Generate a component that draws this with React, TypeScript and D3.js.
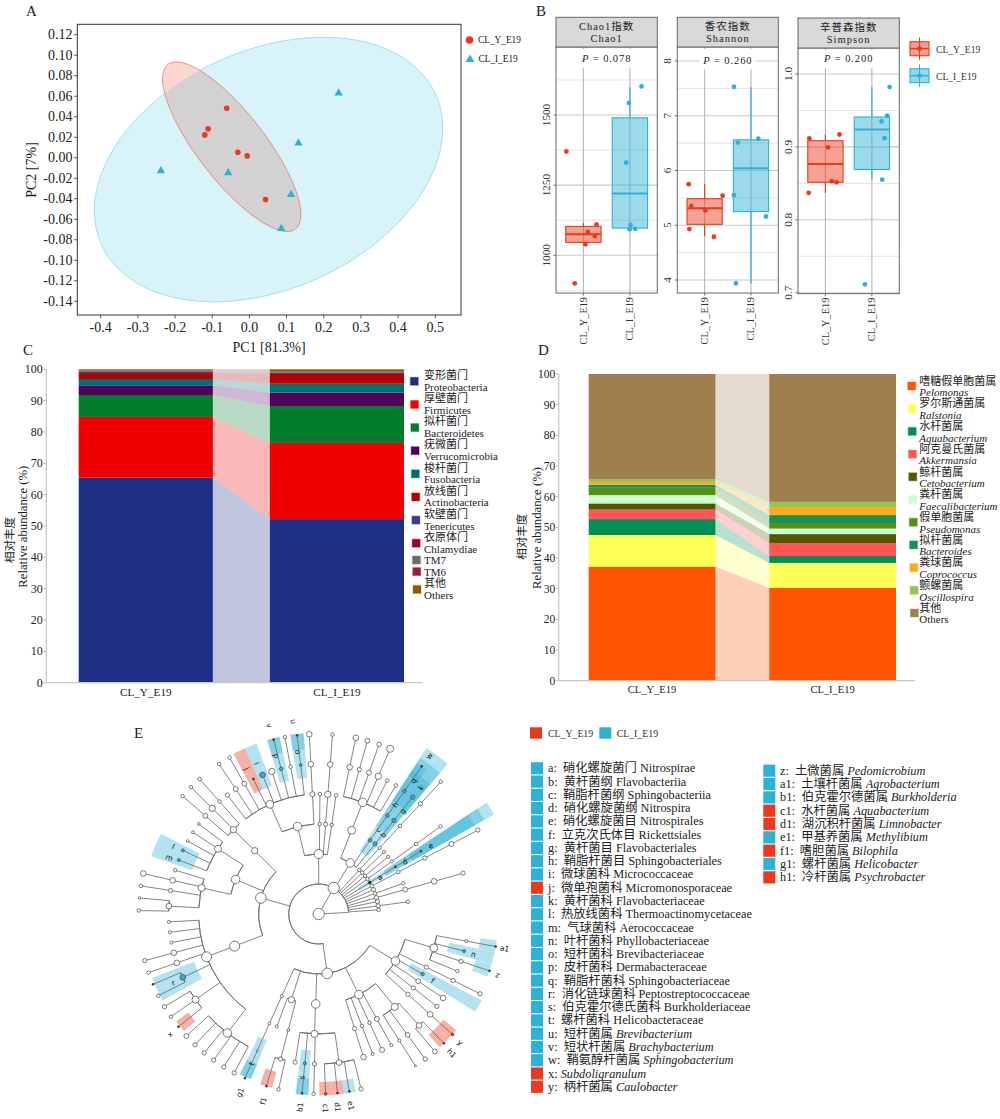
import * as d3 from 'd3'

const FONT = '"Liberation Serif","Noto Sans CJK SC",serif'
const RED = '#ea3a1e'
const BLUE = '#2db2d6'
const INK = '#222'

// A: PCoA
const pcXTicks = [-0.4, -0.3, -0.2, -0.1, 0, 0.1, 0.2, 0.3, 0.4, 0.5]
const pcYTicks = [0.12, 0.1, 0.08, 0.06, 0.04, 0.02, 0, -0.02, -0.04, -0.06, -0.08, -0.1, -0.12, -0.14]
const pcoaY = [[-0.061, 0.0483], [-0.111, 0.0282], [-0.12, 0.0223], [-0.031, 0.0054], [-0.006, 0.0018], [0.0435, -0.0407]]
const pcoaI = [[0.24, 0.063], [0.132, 0.0142], [-0.238, -0.0128], [-0.057, -0.0147], [0.112, -0.036], [0.0856, -0.069]]
// centre x, centre y, half width, half height, phase between x and y
const ellipseI = [0.0516, -0.0115, 0.4686, 0.129, 1.253]
const ellipseY = [-0.0476, 0.0108, 0.186, 0.0827, 2.5]

// B: alpha diversity; boxes are low, q1, median, q3, high; points are jitter, value
const chaoTicks = [1000, 1250, 1500]
const chaoMinor = [875, 1125, 1375, 1625]
const chaoBoxY = [1040, 1046, 1075, 1103, 1115]
const chaoBoxI = [1093, 1097, 1220, 1490, 1599]
const chaoPtsY = [[-0.367, 1370], [-0.187, 900], [0.043, 1039], [0.094, 1083], [0.245, 1068], [0.281, 1110]]
const chaoPtsI = [[0.252, 1602], [-0.022, 1543], [-0.079, 1330], [0.014, 1108], [-0.007, 1093], [0.115, 1094]]
const shannonTicks = [4, 5, 6, 7, 8]
const shannonMinor = [4.5, 5.5, 6.5, 7.5]
const shannonBoxY = [4.8, 5.017, 5.31, 5.485, 5.75]
const shannonBoxI = [3.94, 5.25, 6.04, 6.56, 7.52]
const shannonPtsY = [[-0.345, 5.75], [0.388, 5.54], [-0.288, 5.35], [0.014, 5.27], [-0.33, 4.93], [0.2, 4.79]]
const shannonPtsI = [[-0.367, 7.53], [0.158, 6.58], [-0.28, 6.51], [-0.367, 5.55], [0.324, 5.16], [-0.324, 3.94]]
const simpsonTicks = [0.7, 0.8, 0.9, 1]
const simpsonMinor = [0.75, 0.85, 0.95]
const simpsonBoxY = [0.837, 0.8514, 0.8765, 0.9085, 0.917]
const simpsonBoxI = [0.8556, 0.869, 0.924, 0.941, 0.982]
const simpsonPtsY = [[0.302, 0.917], [-0.345, 0.9118], [0.058, 0.8994], [0.137, 0.853], [0.237, 0.8514], [-0.36, 0.837]]
const simpsonPtsI = [[0.381, 0.982], [0.331, 0.943], [0.209, 0.935], [0.273, 0.912], [0.223, 0.855], [-0.151, 0.7115]]

const groups = ['CL_Y_E19', 'CL_I_E19']

// C: phylum composition
const phylumEn = ['Proteobacteria', 'Firmicutes', 'Bacteroidetes', 'Verrucomicrobia', 'Fusobacteria', 'Actinobacteria', 'Tenericutes', 'Chlamydiae', 'TM7', 'TM6', 'Others']
const phylumZh = ['变形菌门', '厚壁菌门', '拟杆菌门', '疣微菌门', '梭杆菌门', '放线菌门', '软壁菌门', '衣原体门', '', '', '其他']
const phylumColors = ['#1f2f85', '#f10000', '#027d2d', '#520060', '#006f6f', '#b10000', '#443c8f', '#99003d', '#6b6b6b', '#9e1a3d', '#925b00']
const phylumY = [65.4, 19.4, 7.0, 3.1, 2.0, 1.9, 0.45, 0.15, 0.1, 0.05, 0.45]
const phylumI = [52.2, 24.3, 11.8, 4.25, 2.85, 3.1, 0.35, 0.15, 0.1, 0.1, 0.8]

// D: genus composition
const genusEn = ['Pelomonas', 'Ralstonia', 'Aquabacterium', 'Akkermansia', 'Cetobacterium', 'Faecalibacterium', 'Pseudomonas', 'Bacteroides', 'Coprococcus', 'Oscillospira', 'Others']
const genusZh = ['嗜糖假单胞菌属', '罗尔斯通菌属', '水杆菌属', '阿克曼氏菌属', '鲸杆菌属', '粪杆菌属', '假单胞菌属', '拟杆菌属', '粪球菌属', '颤螺菌属', '其他']
const genusColors = ['#ff5500', '#ffff55', '#008f55', '#ff5555', '#555500', '#ccffcc', '#558f15', '#178f55', '#ffaa1a', '#8fc850', '#9f7f50']
const genusY = [37.2, 10.3, 5.2, 3.1, 2.0, 2.7, 2.4, 1.0, 0.9, 0.85, 34.35]
const genusI = [30.3, 8.1, 2.25, 4.25, 2.9, 1.8, 1.8, 2.6, 2.6, 1.7, 41.7]

const percentTicks = [0, 10, 20, 30, 40, 50, 60, 70, 80, 90, 100]

// E: cladogram, angle in degrees clockwise from up, level is the ring, w is the node size
type Clade = { a: number; lv: number; w: number; tag?: string; span?: number[]; kids?: Clade[] }
const c = (a: number, lv: number, w: number, kids?: Clade[], tag?: string, span?: number[]): Clade => ({ a, lv, w, kids, tag, span })
const chain = (a: number, lv: number, ws: number[], tags: (string | undefined)[] = []): Clade =>
  c(a, lv, ws[0], ws.length > 1 ? [chain(a, lv + 1, ws.slice(1), tags.slice(1))] : undefined, tags[0])

const cladeTree = c(0, 0, 7, [
  c(87, 1, 0),
  c(30, 1, 7, [
    c(0, 2, 5.5, [
      c(-13.6, 3, 5, [
        c(-24, 4, 4.5, [
          chain(-37.5, 5, [2]), chain(-33.6, 5, [2.5, 1.5]), chain(-29.7, 5, [2.5, 1.5]),
          chain(-25.8, 5, [0.8], ['k']), chain(-22, 5, [3], ['b']), chain(-18.2, 5, [3.5]),
          chain(-14.5, 5, [1.5, 0.8], ['b', 'k']), chain(-10.8, 5, [1.5, 1.5]), chain(-6.9, 5, [1, 0.8], ['b', 'k']),
        ]),
        chain(-3, 4, [2.5, 3, 3]),
      ]),
      chain(0.6, 3, [1.5, 1.5]), chain(4.4, 3, [2, 3.5, 3, 1.5]), chain(8.3, 3, [1.5, 1.5]),
    ]),
    c(31.7, 2, 5, [
      c(21.5, 3, 4.5, [c(21.5, 4, 5, [
        chain(11.9, 5, [3, 3]), chain(15.7, 5, [2, 2.5]), chain(19.6, 5, [2.5, 2.2]),
        chain(23.4, 5, [3.5, 4]), chain(27.2, 5, [1.5]), chain(31, 5, [1.5]),
      ])]),
      chain(34.9, 3, [1.5, 1.5, 1.5, 0.8], ['b', 'b', 'b', 'k']),
      chain(38.8, 3, [2, 2, 2], ['b', 'b', 'b']),
    ]),
    chain(42.7, 2, [1.5, 1.2, 1.5, 2, 1.5]), chain(46.5, 2, [1.5, 1.2]), chain(50.5, 2, [1.5, 1.2]),
    chain(54.3, 2, [1.5, 1.2, 1.5, 1.5]), chain(58.4, 2, [1.2, 0.8, 0.8], ['k', 'k', 'k']),
    chain(62.2, 2, [1.5, 1.5, 2, 2.5, 2]), chain(66, 2, [2]), chain(70, 2, [1.5, 1.5]),
    chain(74.2, 2, [2, 2.5, 3, 2]), chain(78, 2, [2]), chain(82.2, 2, [2, 1.5]), chain(86, 2, [1.5]),
    c(-74.5, 2, 6.5, [
      c(-45.3, 3, 3.5, [c(-45.3, 4, 3.5, [
        chain(-41.4, 5, [1.5, 1.5]), chain(-45.2, 5, [3.5, 1.5]), chain(-49.1, 5, [2.5, 1.5]),
      ])]),
      c(-67.5, 3, 5, [
        c(-57.1, 4, 4, [chain(-53.1, 5, [1]), chain(-57, 5, [1]), chain(-60.9, 5, [1]), chain(-64.9, 5, [1.2], ['b']), chain(-68.9, 5, [1.2], ['b'])]),
        c(-77.4, 4, 4, [
          chain(-73, 5, [1.5]), chain(-77, 5, [3, 3]), chain(-81, 5, [2, 1.5]),
          c(-87, 5, 3, [chain(-84.9, 6, [1]), chain(-88.9, 6, [1.5])]),
        ]),
      ]),
      c(-110.9, 3, 6, [c(-110.9, 4, 6, [
        chain(-93, 5, [1.2]), chain(-97, 5, [1.2]), chain(-101, 5, [1.2]), chain(-105, 5, [3, 2]), chain(-109, 5, [3, 1.5]),
        c(-115, 5, 3, [chain(-113, 6, [0.8], ['k']), chain(-117, 6, [1.5])], 'b'),
        c(-124.8, 5, 4, [chain(-121, 6, [2]), chain(-124.8, 6, [1.5]), chain(-128.8, 6, [0.8], ['k'])]),
        c(-142.5, 5, 5, [chain(-132.7, 6, [2.5]), chain(-136.6, 6, [2]), chain(-140.5, 6, [2]), chain(-144.3, 6, [2]), chain(-148.2, 6, [2]), chain(-152, 6, [2])]),
      ])]),
    ]),
    c(171.8, 2, 6.5, [
      c(121.5, 3, 5, [
        c(106.4, 4, 4.5, [chain(100.4, 5, [1.2, 0.8], [undefined, 'k']), chain(104.3, 5, [1.2], ['b']), chain(108.4, 5, [2, 0.8], [undefined, 'k']), chain(112.4, 5, [1.5])]),
        chain(116.3, 4, [2, 2, 2]), chain(120, 4, [1.5], ['b']), chain(124, 4, [2.5, 3]), chain(128, 4, [2, 2]),
        chain(132, 4, [2, 3, 1], [undefined, undefined, 'r']),
      ]),
      c(153.5, 3, 5, [
        chain(162.6, 4, [2, 3]), chain(158.9, 4, [1.5, 1.2]), chain(155, 4, [1.5, 2.5]), chain(151, 4, [2.5, 1.2]),
        c(140.7, 4, 4, [chain(147.5, 5, [1.2, 0.8]), chain(143.7, 5, [2.5, 2]), c(138, 5, 3, [chain(139.8, 6, [2.5]), chain(135.9, 6, [0.8], ['k'])])]),
      ]),
      c(181.9, 3, 5, [c(182, 4, 4, [
        chain(189, 5, [2]), chain(185.3, 5, [1.2, 0.8], ['b', 'k']), chain(181.6, 5, [2, 1.5]),
        c(172.2, 5, 3, [chain(177.8, 6, [1], ['r']), chain(174, 6, [0.8], ['k']), chain(170.2, 6, [0.8], ['k']), chain(166.4, 6, [2])]),
      ])]),
      c(197.7, 3, 3.5, [
        chain(200.4, 4, [1.2]),
        c(194.7, 4, 1, [c(194.7, 5, 2, [chain(192.9, 6, [1.5]), chain(196.9, 6, [0.8], ['k'])])]),
      ]),
      chain(204.2, 3, [1.2, 1, 0.8, 0.8], [undefined, undefined, undefined, 'k']),
    ]),
  ], undefined, [-189, 86]),
])

// highlighted clades: start, end, inner level, outer level, group
const cladeSectors: [number, number, number, number, string][] = [
  [-24, -20, 4.55, 6.05, 'I'], [-28, -24, 4.55, 6.05, 'Y'],
  [-16.5, -12.5, 4.55, 6.05, 'I'], [-16.5, -12.5, 5.5, 6.05, 'I'],
  [-9, -4.8, 4.55, 6.05, 'I'], [-9, -4.8, 5.5, 6.05, 'I'],
  [33, 36.9, 2.5, 6.6, 'I'], [33, 36.9, 3.5, 6.2, 'I'], [33, 36.9, 4.5, 5.7, 'I'], [33, 36.9, 5.5, 6, 'I'],
  [36.9, 40.7, 2.5, 6.6, 'I'], [36.9, 40.7, 3.5, 6.2, 'I'], [36.9, 40.7, 4.5, 5.7, 'I'],
  [56.4, 60.4, 1.55, 6.72, 'I'], [56.4, 60.4, 2.6, 6.35, 'I'], [56.4, 60.4, 3.6, 5.98, 'I'],
  [-67, -63, 4.45, 5.9, 'I'], [-71, -67, 4.45, 5.9, 'I'],
  [-119, -111, 4.45, 5.95, 'I'],
  [-131, -127, 5.45, 5.95, 'Y'],
  [-157.7, -153.8, 4.55, 5.95, 'I'], [-157.7, -153.8, 5.4, 5.95, 'I'],
  [-165, -161, 5.45, 6, 'Y'],
  [-176.7, -172.7, 4.55, 6.05, 'I'], [-176.7, -172.7, 5.5, 6.05, 'I'],
  [175.8, 179.8, 5.6, 6.05, 'Y'], [172, 175.8, 5.6, 6.05, 'Y'], [168.2, 172, 5.6, 6.05, 'I'],
  [102.3, 106.3, 4.45, 5.95, 'I'], [98.4, 102.3, 5.45, 6, 'I'], [106.3, 110.3, 5.45, 6, 'I'], [102.3, 106.3, 5.95, 6, 'I'],
  [118, 122, 3.5, 6.15, 'I'],
  [130.2, 133.9, 5.45, 6, 'Y'], [133.9, 137.7, 5.45, 6, 'Y'],
]
// clade letters: text, angle, level
const cladeLabels: [string, number, number][] = [
  ['i', -22.4, 5.43], ['j', -26.4, 5.4], ['p', -15.1, 5.45], ['v', -14.7, 6.5], ['o', -7.3, 5.45], ['u', -7.5, 6.47],
  ['q', 35.4, 5.45], ['h', 35, 4.44], ['c', 35.4, 3.43], ['w', 35, 6.43], ['k', 39, 5.42], ['g', 39.2, 4.43], ['b', 39.3, 3.4],
  ['a', 59.1, 2.38], ['d', 58.8, 3.36], ['e', 58.7, 4.37], ['l', -65.1, 5.34], ['m', -69.3, 5.32], ['r', -115.3, 5.36], ['x', -129, 6.37],
  ['t', -155.9, 5.47], ['g1', -156.2, 6.5], ['f1', -163.5, 6.5], ['s', -174.2, 5.48], ['b1', -174.5, 6.47],
  ['c1', 178, 6.48], ['d1', 174.4, 6.46], ['e1', 170.5, 6.48], ['y', 132.3, 6.37], ['h1', 136.3, 6.42],
  ['f', 120.3, 4.4], ['n', 104.6, 5.33], ['a1', 100.5, 6.3], ['z', 108.8, 6.3],
]

// LEfSe key: letter, Chinese, Latin, group
const featuresLeft = [
  ['a', '硝化螺旋菌门', 'Nitrospirae', 'I'], ['b', '黄杆菌纲', 'Flavobacteriia', 'I'], ['c', '鞘脂杆菌纲', 'Sphingobacteriia', 'I'],
  ['d', '硝化螺旋菌纲', 'Nitrospira', 'I'], ['e', '硝化螺旋菌目', 'Nitrospirales', 'I'], ['f', '立克次氏体目', 'Rickettsiales', 'I'],
  ['g', '黄杆菌目', 'Flavobacteriales', 'I'], ['h', '鞘脂杆菌目', 'Sphingobacteriales', 'I'], ['i', '微球菌科', 'Micrococcaceae', 'I'],
  ['j', '微单孢菌科', 'Micromonosporaceae', 'Y'], ['k', '黄杆菌科', 'Flavobacteriaceae', 'I'], ['l', '热放线菌科', 'Thermoactinomycetaceae', 'I'],
  ['m', '气球菌科', 'Aerococcaceae', 'I'], ['n', '叶杆菌科', 'Phyllobacteriaceae', 'I'], ['o', '短杆菌科', 'Brevibacteriaceae', 'I'],
  ['p', '皮杆菌科', 'Dermabacteraceae', 'I'], ['q', '鞘脂杆菌科', 'Sphingobacteriaceae', 'I'], ['r', '消化链球菌科', 'Peptostreptococcaceae', 'I'],
  ['s', '伯克霍尔德氏菌科', 'Burkholderiaceae', 'I'], ['t', '螺杆菌科', 'Helicobacteraceae', 'I'],
  ['u', '短杆菌属', '*Brevibacterium', 'I'], ['v', '短状杆菌属', '*Brachybacterium', 'I'], ['w', '鞘氨醇杆菌属', '*Sphingobacterium', 'I'],
  ['x', '', '*Subdoligranulum', 'Y'], ['y', '柄杆菌属', '*Caulobacter', 'Y'],
]
const featuresRight = [
  ['z', '土微菌属', '*Pedomicrobium', 'I'], ['a1', '土壤杆菌属', '*Agrobacterium', 'I'], ['b1', '伯克霍尔德菌属', '*Burkholderia', 'I'],
  ['c1', '水杆菌属', '*Aquabacterium', 'Y'], ['d1', '湖沉积杆菌属', '*Limnobacter', 'Y'], ['e1', '甲基养菌属', '*Methylibium', 'I'],
  ['f1', '嗜胆菌属', '*Bilophila', 'Y'], ['g1', '螺杆菌属', '*Helicobacter', 'I'], ['h1', '冷杆菌属', '*Psychrobacter', 'Y'],
]

function Txt({ x, y, size, rot, anchor, children, fill = INK, ...rest }: any) {
  return (
    <text
      x={rot == null ? x : undefined}
      y={rot == null ? y : undefined}
      transform={rot == null ? undefined : `translate(${x},${y}) rotate(${rot})`}
      fontSize={size}
      textAnchor={anchor}
      fill={fill}
      fontFamily={FONT}
      {...rest}
    >
      {children}
    </text>
  )
}

function PanelA() {
  const x = d3.scaleLinear().domain([-0.4, 0.5]).range([100.7, 435.3])
  const y = d3.scaleLinear().domain([-0.14, 0.12]).range([301.3, 34.7])
  const ellipse = ([cx, cy, a, b, phi]: number[]) =>
    d3.line().curve(d3.curveLinearClosed)(
      d3.range(0, Math.PI * 2, 0.03).map(t => [x(cx + a * Math.cos(t)), y(cy + b * Math.cos(t - phi))] as [number, number]),
    )!
  const tri = d3.symbol(d3.symbolTriangle, 30)()!
  return (
    <g>
      <defs>
        <clipPath id="ellipse-i"><path d={ellipse(ellipseI)} /></clipPath>
      </defs>
      <path d={ellipse(ellipseI)} fill="#d8f3f9" stroke="#8fd8e8" strokeWidth={0.8} />
      <path d={ellipse(ellipseY)} fill="#fcd6cf" />
      <path d={ellipse(ellipseY)} fill="#d3d1d2" clipPath="url(#ellipse-i)" />
      <path d={ellipse(ellipseY)} fill="none" stroke="#df7a6c" strokeWidth={0.8} />
      {pcoaY.map((d, i) => <circle key={i} cx={x(d[0])} cy={y(d[1])} r={2.8} fill={RED} />)}
      {pcoaI.map((d, i) => <path key={i} d={tri} transform={`translate(${x(d[0])},${y(d[1])})`} fill={BLUE} />)}
      <rect x={77.3} y={24.3} width={383.7} height={290.7} fill="none" stroke="#333" strokeWidth={1} />
      {pcXTicks.map(t => (
        <g key={t}>
          <line x1={x(t)} x2={x(t)} y1={315} y2={318.5} stroke="#333" strokeWidth={0.8} />
          <Txt x={x(t)} y={332} size={14} anchor="middle">{t.toFixed(1)}</Txt>
        </g>
      ))}
      {pcYTicks.map(t => (
        <g key={t}>
          <line x1={74} x2={77.3} y1={y(t)} y2={y(t)} stroke="#333" strokeWidth={0.8} />
          <Txt x={72.5} y={y(t) + 4.5} size={14} anchor="end">{t.toFixed(2)}</Txt>
        </g>
      ))}
      <Txt x={269} y={351.5} size={14} anchor="middle">PC1 [81.3%]</Txt>
      <Txt x={36} y={170} size={14} rot={-90} anchor="middle">PC2 [7%]</Txt>
      <circle cx={469.5} cy={40} r={3.8} fill={RED} />
      <path d={d3.symbol(d3.symbolTriangle, 34)()!} transform={`translate(470,59.5)`} fill={BLUE} />
      <Txt x={478} y={43} size={9.3}>{groups[0]}</Txt>
      <Txt x={478.5} y={62} size={9.3}>{groups[1]}</Txt>
    </g>
  )
}

function Facet({ left, right, top, head, bottom, zh, en, p, pY, major, minor, cal, boxY, boxI, ptsY, ptsI, fmt }: any) {
  const x = d3.scaleLinear().domain([0.41, 2.59]).range([left, right])
  const y = d3.scaleLinear().domain(cal[0]).range(cal[1])
  const groupsDraw = [
    { pos: 1, box: boxY, pts: ptsY, col: RED },
    { pos: 2, box: boxI, pts: ptsI, col: BLUE },
  ]
  return (
    <g>
      <rect x={left} y={head} width={right - left} height={bottom - head} fill="#fff" />
      {minor.map((t: number) => <line key={t} x1={left} x2={right} y1={y(t)} y2={y(t)} stroke="#e3e3e3" strokeWidth={1} />)}
      {major.map((t: number) => <line key={t} x1={left} x2={right} y1={y(t)} y2={y(t)} stroke="#c9c9c9" strokeWidth={1.1} />)}
      {[1, 2].map(g => <line key={g} x1={x(g)} x2={x(g)} y1={head} y2={bottom} stroke="#bcbcbc" strokeWidth={1.2} />)}
      <rect x={x(0.885)} y={head + 2} width={x(2.12) - x(0.885)} height={pY - head + 4} fill="#fff" />
      <Txt x={(x(1) + x(2)) / 2} y={pY} size={10.5} anchor="middle" letterSpacing={0.9}>
        <tspan fontStyle="italic">P</tspan> = {p}
      </Txt>
      {groupsDraw.map(g => {
        const [lo, q1, med, q3, hi] = g.box
        const hw = 0.38
        return (
          <g key={g.pos}>
            <line x1={x(g.pos)} x2={x(g.pos)} y1={y(lo)} y2={y(q1)} stroke={g.col} strokeWidth={1.2} />
            <line x1={x(g.pos)} x2={x(g.pos)} y1={y(q3)} y2={y(hi)} stroke={g.col} strokeWidth={1.2} />
            <rect x={x(g.pos - hw)} y={y(q3)} width={x(g.pos + hw) - x(g.pos - hw)} height={y(q1) - y(q3)} fill={g.col} fillOpacity={0.48} stroke={g.col} strokeWidth={1.1} />
            <line x1={x(g.pos - hw)} x2={x(g.pos + hw)} y1={y(med)} y2={y(med)} stroke={g.col} strokeWidth={2} />
            {g.pts.map((d: number[], i: number) => <circle key={i} cx={x(g.pos + d[0])} cy={y(d[1])} r={2.4} fill={g.col} />)}
            <line x1={x(g.pos)} x2={x(g.pos)} y1={bottom} y2={bottom + 2.5} stroke="#444" strokeWidth={0.8} />
            <Txt x={x(g.pos) + 3.5} y={bottom + 4} size={10.3} rot={-90} anchor="end" fill="#333">{groups[g.pos - 1]}</Txt>
          </g>
        )
      })}
      {major.map((t: number) => (
        <g key={t}>
          <line x1={left - 2.5} x2={left} y1={y(t)} y2={y(t)} stroke="#444" strokeWidth={0.8} />
          <Txt x={left - 6} y={y(t)} size={11.2} rot={-90} anchor="middle" fill="#333">{fmt(t)}</Txt>
        </g>
      ))}
      <rect x={left} y={head} width={right - left} height={bottom - head} fill="none" stroke="#666" strokeWidth={1} />
      <rect x={left} y={top} width={right - left} height={head - top} fill="#d9d9d9" stroke="#666" strokeWidth={1} />
      <Txt x={(left + right) / 2} y={top + 13} size={10.5} anchor="middle" letterSpacing={1}>{zh}</Txt>
      <Txt x={(left + right) / 2} y={top + 24.7} size={10.5} anchor="middle" letterSpacing={1}>{en}</Txt>
    </g>
  )
}

function PanelB() {
  const keyRows = [{ col: RED, y: 41.7 }, { col: BLUE, y: 68.7 }]
  return (
    <g>
      <Facet left={556} right={657.3} top={17.3} head={47} bottom={293} zh="Chao1指数" en="Chao1" p="0.078" pY={61.5}
        major={chaoTicks} minor={chaoMinor} cal={[[1000, 1500], [255.3, 115]]} boxY={chaoBoxY} boxI={chaoBoxI} ptsY={chaoPtsY} ptsI={chaoPtsI} fmt={String} />
      <Facet left={677.3} right={778.3} top={17.3} head={47} bottom={293} zh="香农指数" en="Shannon" p="0.260" pY={63.5}
        major={shannonTicks} minor={shannonMinor} cal={[[4, 8], [280, 61]]} boxY={shannonBoxY} boxI={shannonBoxI} ptsY={shannonPtsY} ptsI={shannonPtsI} fmt={String} />
      <Facet left={798} right={899.3} top={18} head={48} bottom={293.7} zh="辛普森指数" en="Simpson" p="0.200" pY={62}
        major={simpsonTicks} minor={simpsonMinor} cal={[[0.7, 1], [292.7, 74]]} boxY={simpsonBoxY} boxI={simpsonBoxI} ptsY={simpsonPtsY} ptsI={simpsonPtsI} fmt={(t: number) => t.toFixed(1)} />
      {keyRows.map((k, i) => (
        <g key={i}>
          <line x1={919.5} x2={919.5} y1={k.y - 4.4} y2={k.y + 18.3} stroke={k.col} strokeWidth={1} />
          <rect x={910} y={k.y} width={19} height={14} fill={k.col} fillOpacity={0.5} stroke={k.col} strokeWidth={1.1} />
          <line x1={910} x2={929} y1={k.y + 7} y2={k.y + 7} stroke={k.col} strokeWidth={1.5} />
          <circle cx={919.5} cy={k.y + 7} r={2.4} fill={k.col} />
          <Txt x={936} y={k.y + 11} size={9.6} fill="#333">{groups[i]}</Txt>
        </g>
      ))}
    </g>
  )
}

function StackPanel({ keys, zh, colors, valuesY, valuesI, axisX, axisEnd, y0, y100, barL, barR, tickSize, labelSize, labelY,
  legX, legZh0, legStep, legLine, legSingle, swatchX, swatchDy, zhTitle, enTitle, italic }: any) {
  const table = groups.map((g, gi) => {
    const row: Record<string, number> = {}
    keys.forEach((k: string, i: number) => { row[k] = (gi === 0 ? valuesY : valuesI)[i] })
    return row
  })
  const series = d3.stack<Record<string, number>>().keys(keys)(table)
  const x = d3.scaleBand().domain(groups).range([barL, barR]).paddingInner(0.298)
  const y = d3.scaleLinear().domain([0, 100]).range([y0, y100])
  const ribbon = d3.area<number>()
    .x((_, i) => (i === 0 ? x(groups[0])! + x.bandwidth() : x(groups[1])!))
  let cursor = legZh0
  return (
    <g>
      {series.map((s, si) => (
        <g key={s.key}>
          {s.map((d, i) => (
            <rect key={i} x={x(groups[i])} width={x.bandwidth()} y={y(d[1])} height={y(d[0]) - y(d[1])} fill={colors[si]} />
          ))}
          <path
            d={ribbon.y0((_, i) => y(s[i][0])).y1((_, i) => y(s[i][1]))([0, 1])!}
            fill={colors[si]}
            fillOpacity={0.28}
          />
        </g>
      ))}
      <line x1={axisX} x2={axisEnd} y1={y0} y2={y0} stroke="#c8c8c8" strokeWidth={1.3} />
      <line x1={axisX} x2={axisX} y1={y100} y2={y0} stroke="#c8c8c8" strokeWidth={1.3} />
      {percentTicks.map(t => (
        <g key={t}>
          <line x1={axisX - 3} x2={axisX} y1={y(t)} y2={y(t)} stroke="#bbb" strokeWidth={1} />
          <Txt x={axisX - 3.5} y={y(t) + 4} size={tickSize} anchor="end">{t}</Txt>
        </g>
      ))}
      {groups.map(g => (
        <Txt key={g} x={x(g)! + x.bandwidth() / 2} y={labelY} size={labelSize} anchor="middle">{g}</Txt>
      ))}
      <Txt x={zhTitle[0]} y={zhTitle[1]} size={11.5} rot={-90} anchor="middle">{zhTitle[2]}</Txt>
      <Txt x={enTitle[0]} y={enTitle[1]} size={12.7} rot={-90} anchor="middle">Relative abundance (%)</Txt>
      {keys.map((k: string, i: number) => {
        const two = zh[i] !== ''
        const rowY = cursor
        cursor += two ? legStep : legSingle
        const sy = two ? rowY + swatchDy : rowY
        return (
          <g key={k}>
            <rect x={swatchX + i * 0.27 - 4} y={sy - 4} width={8} height={8} fill={colors[i]} stroke={colors[i]} strokeOpacity={0.25} strokeWidth={1.4} />
            {two && <Txt x={legX} y={rowY + 4} size={11}>{zh[i]}</Txt>}
            <Txt x={legX} y={(two ? rowY + legLine : rowY) + 4} size={11} fontStyle={italic && k !== 'Others' ? 'italic' : undefined}>{k}</Txt>
          </g>
        )
      })}
    </g>
  )
}

function PanelE() {
  const cx = 318.7
  const cy = 914
  const radius = d3.scaleLinear().domain([0, 6]).range([0, 180])
  const size = d3.scaleLinear().domain([1, 7]).range([1.4, 5.7])
  const rad = (a: number) => (a * Math.PI) / 180
  const pt = (a: number, lv: number): [number, number] => [
    cx + radius(lv) * Math.sin(rad(a)),
    cy - radius(lv) * Math.cos(rad(a)),
  ]
  const root = d3.hierarchy<Clade>(cladeTree, d => d.kids)
  const nodes = root.descendants()
  const arc = d3.arc()
  const linkLine = d3.line()
  const fills: Record<string, string> = { b: BLUE, r: RED, k: '#223' }
  return (
    <g>
      {cladeSectors.map((s, i) => (
        <path
          key={i}
          transform={`translate(${cx},${cy})`}
          d={arc({ startAngle: rad(s[0]), endAngle: rad(s[1]), innerRadius: radius(s[2]), outerRadius: radius(s[3]) })!}
          fill={s[4] === 'Y' ? RED : BLUE}
          fillOpacity={s[4] === 'Y' ? 0.4 : 0.36}
        />
      ))}
      {nodes.filter(n => n.data.kids && n.depth > 0).map((n, i) => {
        const as = [n.data.a, ...n.data.kids!.map(k => k.a)]
        const [a0, a1] = n.data.span ?? [d3.min(as)!, d3.max(as)!]
        const r = radius(n.data.lv)
        return (
          <path key={i} transform={`translate(${cx},${cy})`} d={arc({ startAngle: rad(a0), endAngle: rad(a1), innerRadius: r, outerRadius: r })!} fill="none" stroke="#666" strokeWidth={0.8} />
        )
      })}
      {nodes.filter(n => n.parent).map((n, i) => (
        <path key={i} d={linkLine([pt(n.data.a, n.parent!.data.lv), pt(n.data.a, n.data.lv)])!} fill="none" stroke="#666" strokeWidth={0.8} />
      ))}
      {nodes.filter(n => n.data.w > 0).map((n, i) => {
        const [px, py] = pt(n.data.a, n.data.lv)
        return (
          <circle key={i} cx={px} cy={py} r={n.data.w < 1 ? 1 : size(n.data.w)} fill={n.data.tag ? fills[n.data.tag] : '#fff'} stroke="#444" strokeWidth={0.7} />
        )
      })}
      {cladeLabels.map(([t, a, lv]) => {
        const [px, py] = pt(a, lv)
        return (
          <text key={t} transform={`translate(${px},${py}) rotate(${a < 0 ? a + 90 : a - 90})`} textAnchor="middle" dy="0.35em" fontSize={7.5} fontFamily='"DejaVu Sans",sans-serif' fill="#111">{t}</text>
        )
      })}
    </g>
  )
}

function FeatureKey({ rows, swatchX, textX, y0, step }: any) {
  return (
    <g>
      {rows.map((r: string[], i: number) => {
        const y = y0 + i * step
        const it = r[2].startsWith('*')
        return (
          <g key={r[0]}>
            <rect x={swatchX} y={y - 6.1} width={12} height={12.2} fill={r[3] === 'Y' ? RED : BLUE} />
            <Txt x={textX} y={y + 4} size={12.3} style={{ whiteSpace: 'pre' }}>
              {r[1] ? `${r[0]}:  ${r[1]} ` : `${r[0]}: `}
              <tspan fontStyle={it ? 'italic' : undefined}>{it ? r[2].slice(1) : r[2]}</tspan>
            </Txt>
          </g>
        )
      })}
    </g>
  )
}

export default function App() {
  return (
    <svg width={1000} height={1119} viewBox="0 0 1000 1119" style={{ position: 'absolute', left: 0, top: 0, background: '#fff', display: 'block' }}>
      <Txt x={26} y={16} size={15}>A</Txt>
      <Txt x={536} y={16} size={15}>B</Txt>
      <Txt x={23} y={355} size={15}>C</Txt>
      <Txt x={538} y={355} size={15}>D</Txt>
      <Txt x={134} y={738} size={15}>E</Txt>
      <PanelA />
      <PanelB />
      <StackPanel keys={phylumEn} zh={phylumZh} colors={phylumColors} valuesY={phylumY} valuesI={phylumI}
        axisX={46.3} axisEnd={422.7} y0={682.7} y100={369.3} barL={78.7} barR={404} tickSize={12} labelSize={11.2} labelY={695.5}
        legX={424} legZh0={375} legStep={23.13} legLine={11.8} legSingle={11.55} swatchX={414.3} swatchDy={6.3}
        zhTitle={[14, 540, '相对丰度']} enTitle={[27, 526.7]} />
      <StackPanel keys={genusEn} zh={genusZh} colors={genusColors} valuesY={genusY} valuesI={genusI} italic
        axisX={558.7} axisEnd={915} y0={680.7} y100={374} barL={588.7} barR={896} tickSize={11.5} labelSize={10.5} labelY={693}
        legX={919.3} legZh0={380.7} legStep={22.7} legLine={11.6} legSingle={11.5} swatchX={911.7} swatchDy={5.3}
        zhTitle={[526, 536.7, '相对丰度']} enTitle={[540.5, 528]} />
      <PanelE />
      <rect x={530} y={727.3} width={12} height={11.4} fill={RED} />
      <Txt x={548} y={736.5} size={9.8} fill="#333">{groups[0]}</Txt>
      <rect x={599.3} y={727.3} width={12} height={11.4} fill={BLUE} />
      <Txt x={616.7} y={736.5} size={9.8} fill="#333">{groups[1]}</Txt>
      <FeatureKey rows={featuresLeft} swatchX={531} textX={548} y0={768.3} step={13.27} />
      <FeatureKey rows={featuresRight} swatchX={763.3} textX={780} y0={770.7} step={13.33} />
    </svg>
  )
}
